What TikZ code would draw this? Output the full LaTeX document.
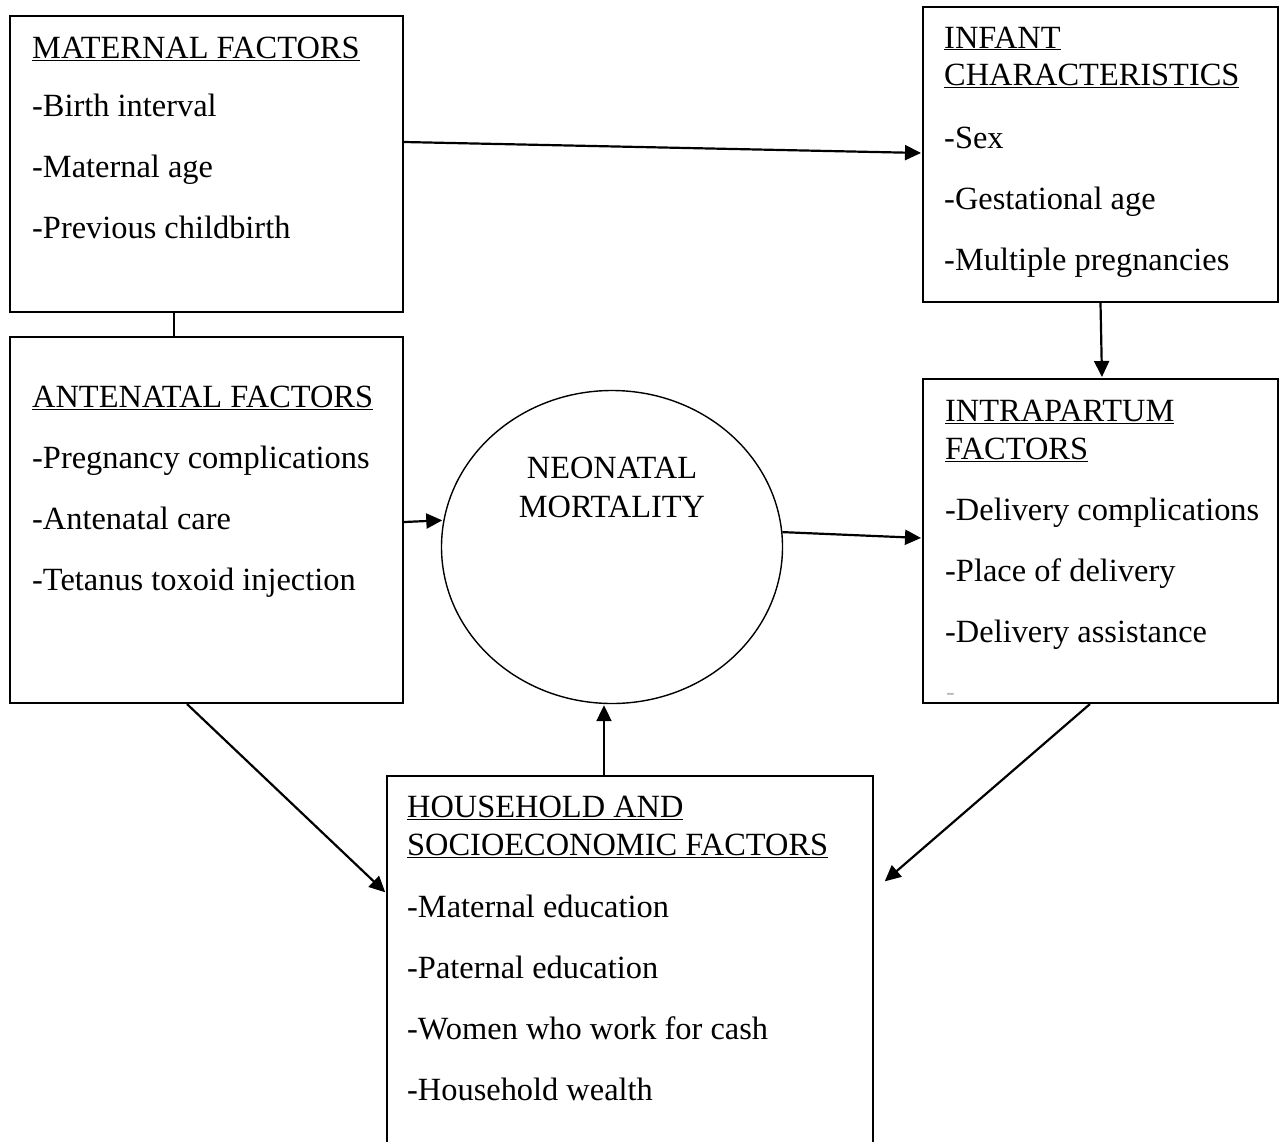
\documentclass[tikz,border=0pt]{standalone}
\usepackage{fontspec}
\setmainfont{Liberation Serif}
\usetikzlibrary{shapes.geometric, arrows.meta, calc}

\newcommand{\factorpar}[2][61]{\parbox[t]{460pt}{\raggedright\fontsize{32.4}{#1}\selectfont #2}}

\tikzset{
  factorbox/.style={draw, line width=2pt, inner sep=0pt},
  factortext/.style={anchor=base west, inner sep=0pt},
  link/.style={line width=2.2pt, -{Triangle[length=16pt, width=15pt]}, shorten >=1pt},
}

\begin{document}
\begin{tikzpicture}[x=1pt, y=-1pt]
    \useasboundingbox (0,0) rectangle (1280,1141);

    % boxes
    \node[factorbox, minimum width=393pt, minimum height=296pt] (maternal) at (206.5,164) {};
    \node[factorbox, minimum width=355pt, minimum height=295pt] (infant) at (1100.5,154.5) {};
    \node[factorbox, minimum width=393pt, minimum height=366pt] (antenatal) at (206.5,520) {};
    \node[factorbox, minimum width=355pt, minimum height=324pt] (intrapartum) at (1100.5,541) {};
    \node[factorbox, minimum width=486pt, minimum height=374pt] (household) at (630,963) {};
    \node[draw, ellipse, line width=1.4pt, minimum width=341pt, minimum height=313pt, inner sep=0pt] (mortality) at (612,547) {};

    % texts
    \node[factortext] (maternaltxt) at (32,58) {\factorpar{\underline{MATERNAL FACTORS}\\[-3pt]
        -Birth interval\\-Maternal age\\-Previous childbirth}};
    \node[factortext] (infanttxt) at (944,48) {\factorpar{\underline{INFANT}\\[-24pt]\underline{CHARACTERISTICS}\\[2pt]
        -Sex\\-Gestational age\\-Multiple pregnancies}};
    \node[factortext] (antenataltxt) at (32,407) {\factorpar{\underline{ANTENATAL FACTORS}\\
        -Pregnancy complications\\-Antenatal care\\-Tetanus toxoid injection}};
    \node[factortext] (intrapartumtxt) at (945,421) {\factorpar{\underline{INTRAPARTUM}\\[-23pt]\underline{FACTORS}\\
        -Delivery complications\\-Place of delivery\\-Delivery assistance}};
    \node[factortext] (householdtxt) at (407,817) {\factorpar{\underline{HOUSEHOLD AND}\\[-23pt]\underline{SOCIOECONOMIC FACTORS}\\[1pt]
        -Maternal education\\-Paternal education\\-Women who work for cash\\-Household wealth}};
    \node[factortext, anchor=base] (mortalitytxt) at (612,478) {\parbox[t]{300pt}{\centering\fontsize{32.4}{39}\selectfont NEONATAL\\MORTALITY}};
    \node[factortext, text=gray!55, font=\fontsize{26}{26}\selectfont] (straymark) at (946,700) {-};

    % connectors
    \coordinate (hhentry) at (884,882);
    \draw[link] ([yshift=22pt]maternal.east) -- ([yshift=1.5pt]infant.west);
    \draw[line width=2.2pt] ([xshift=-32.5pt]maternal.south) -- ([xshift=-32.5pt]antenatal.north);
    \draw[link] (infant.south) -- ([xshift=1.5pt]intrapartum.north);
    \draw[link] ([yshift=-2pt]antenatal.east) -- (mortality.171);
    \draw[link] (mortality.5) -- ([yshift=3pt]intrapartum.west);
    \draw[link] ([xshift=-26pt]household.north) -- ([xshift=-26pt]household.north |- mortality.south);
    \draw[link] ([xshift=-19.5pt]antenatal.south) -- ([yshift=70pt]household.west);
    \draw[link] ([xshift=-10.5pt]intrapartum.south) -- (hhentry);
\end{tikzpicture}
\end{document}
